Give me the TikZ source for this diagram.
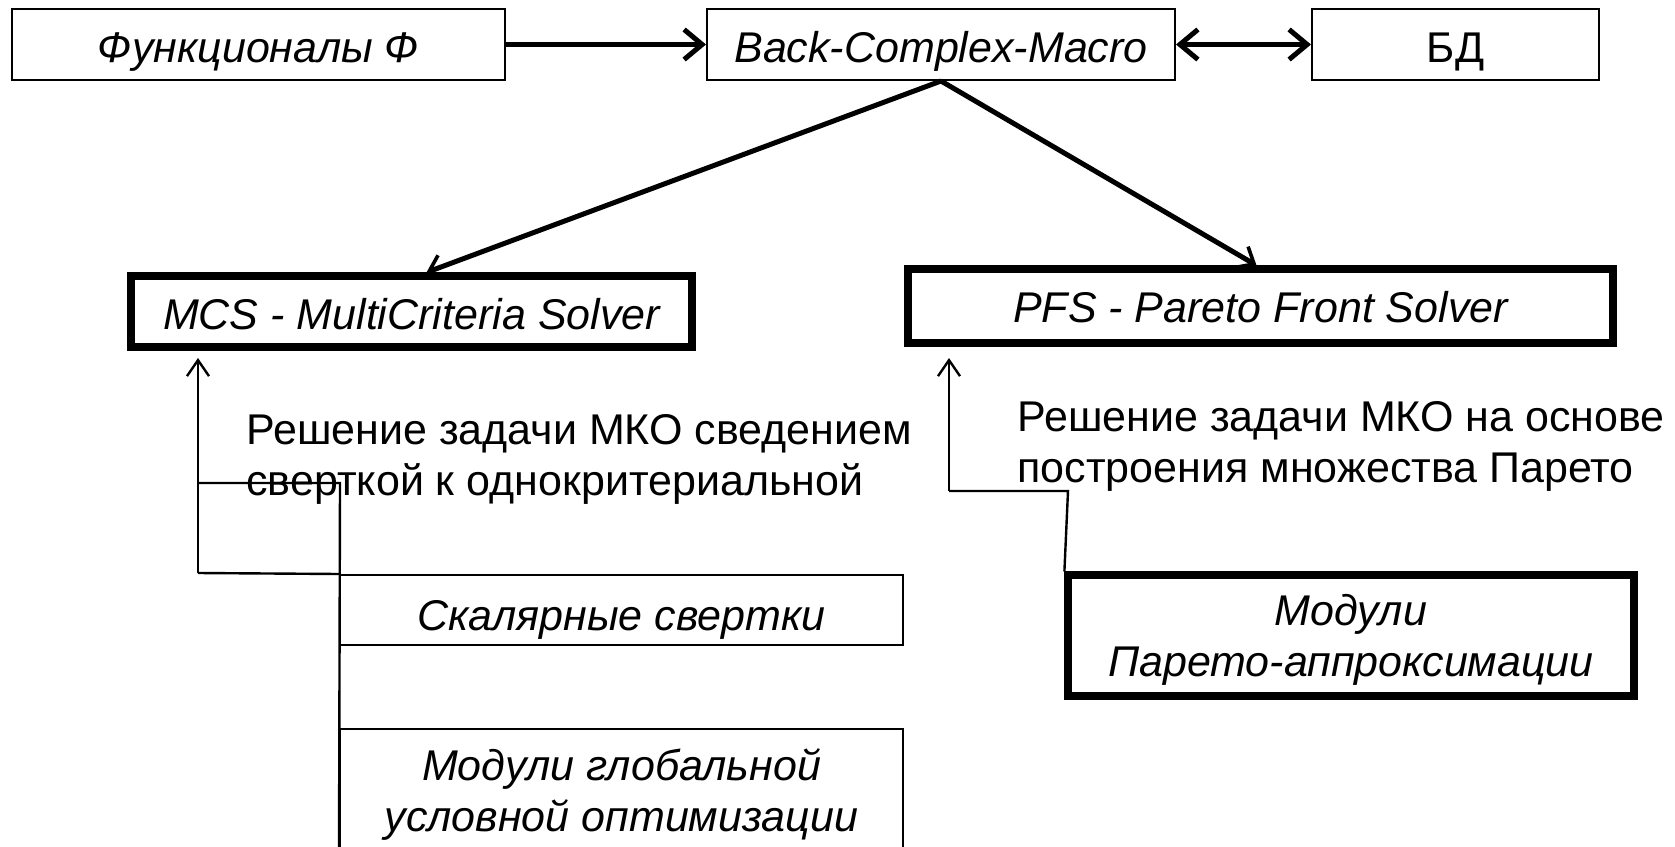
\documentclass[tikz,border=0pt]{standalone}
\usepackage{fontspec}
\setmainfont{Liberation Sans}
\usetikzlibrary{arrows.meta}

\newcommand{\lblfont}{\fontsize{21.5pt}{25.5pt}\selectfont}
% box label set a little below the box's centre (its size is kept, so the node stays put)
\newcommand{\boxtext}[2]{\raisebox{-#1}[\height][\depth]{\begin{tabular}{@{}c@{}}#2\end{tabular}}}

\tikzset{
  thinbox/.style={draw, line width=1pt, rectangle, inner sep=0pt,
    font=\lblfont\itshape},
  thickbox/.style={draw, line width=3.6pt, rectangle, inner sep=0pt,
    font=\lblfont\itshape},
  desc/.style={inner sep=0pt, align=left, font=\lblfont, anchor=west},
  bigarrow/.style={line width=2.5pt, -{Straight Barb[length=9pt,width=15pt,line width=2.5pt]}},
  botharrow/.style={line width=2.5pt,
    {Straight Barb[length=9pt,width=15pt,line width=2.5pt]}-{Straight Barb[length=9pt,width=15pt,line width=2.5pt]}},
  diagarrow/.style={line width=2.5pt, -{Straight Barb[length=7pt,width=12pt,line width=1.8pt]}},
  uparrow/.style={line width=1.2pt, -{Straight Barb[length=8pt,width=11pt,line width=1.2pt]}},
  link/.style={line width=1.2pt},
}

\begin{document}
\begin{tikzpicture}[x=0.5pt, y=-0.5pt]
\useasboundingbox (0,0) rectangle (1675,846);
\clip (0,0) rectangle (1675,846);
\fill[white] (0,0) rectangle (1675,846);

% top row
\node[thinbox, minimum width=246.5pt, minimum height=35.5pt] (fun) at (258.5,44.5) {\boxtext{3.7pt}{Функционалы Ф}};
\node[thinbox, minimum width=234pt, minimum height=35.5pt] (bcm) at (941,44.5) {\boxtext{3.7pt}{Back-Complex-Macro}};
\node[thinbox, font=\lblfont, minimum width=143.5pt, minimum height=35.5pt] (bd) at (1455.5,44.5) {\boxtext{3.7pt}{БД}};

% solvers
\node[thickbox, minimum width=280.5pt, minimum height=35.5pt] (mcs) at (411.5,311.5) {\boxtext{3.7pt}{MCS - MultiCriteria Solver}};
\node[thickbox, minimum width=352.5pt, minimum height=37pt] (pfs) at (1260.5,306) {\boxtext{3.2pt}{PFS - Pareto Front Solver}};

% modules
\node[thinbox, minimum width=281.5pt, minimum height=35pt] (sk) at (621.5,610) {\boxtext{5.3pt}{Скалярные свертки}};
\node[thinbox, minimum width=281.5pt, minimum height=63.5pt] (glob) at (621.5,792.5) {\boxtext{1.6pt}{Модули глобальной\\условной оптимизации}};
\node[thickbox, minimum width=283pt, minimum height=60.5pt] (mp) at (1351,635.5) {\boxtext{2.7pt}{Модули\\Парето-аппроксимации}};

% connectors of the top row
\draw[bigarrow] (fun.east) -- (bcm.west);
\draw[botharrow] (bcm.east) -- (bd.west);
\draw[diagarrow] (bcm.south) -- ([xshift=7.5pt]mcs.north);
\draw[diagarrow] (bcm.south) -- ([xshift=-2pt]pfs.north);

% left branch
\coordinate (mtip) at (198,358);
\coordinate (mlow) at (198,573);
\coordinate (mmid) at (198,483);
\coordinate (mcor) at (340,483);
\draw[uparrow] (mlow) -- (mtip);
\draw[link] (mlow) -- (sk.north west);
\draw[link] (mmid) -- (mcor) -- (glob.south west);

% right branch
\coordinate (ptip) at (949,358);
\coordinate (plow) at (949,491);
\coordinate (pcor) at (1068,491);
\draw[uparrow] (plow) -- (ptip);
\draw[link] (plow) -- (pcor) -- (mp.north west);

% descriptions
\node[desc] (dl) at (246,459) {Решение задачи МКО сведением\\сверткой к однокритериальной};
\node[desc] (dr) at (1017,446) {Решение задачи МКО на основе\\построения множества Парето};
\end{tikzpicture}
\end{document}
